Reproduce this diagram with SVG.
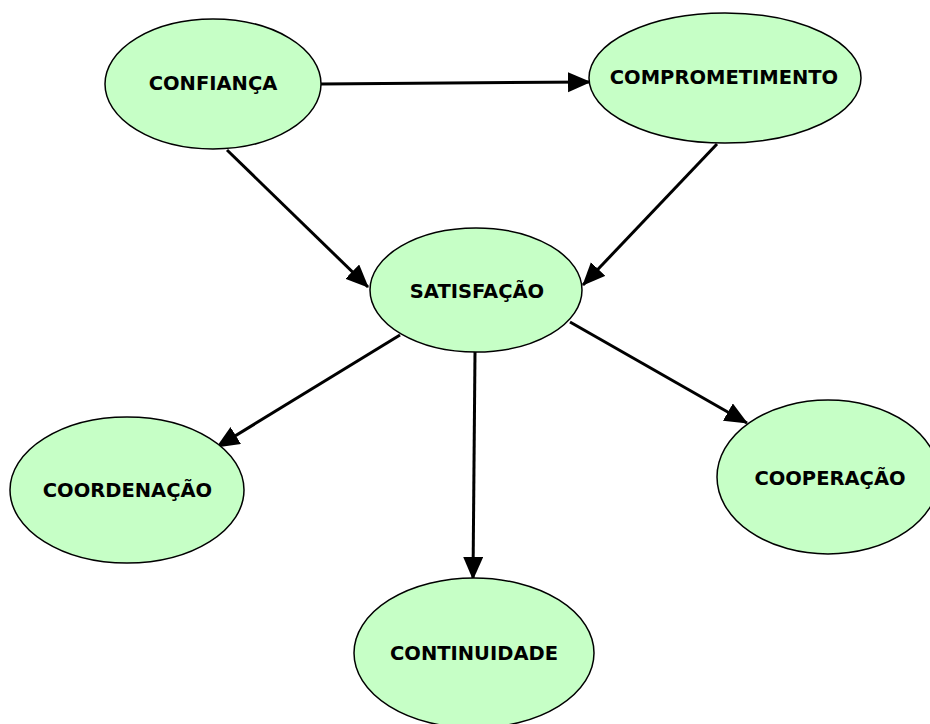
<svg xmlns="http://www.w3.org/2000/svg" width="930" height="724" viewBox="0 0 930 724">
  <style>
    .node ellipse { fill: #c6ffc6; stroke: #000; stroke-width: 1.5; }
    .node text { font-family: "DejaVu Sans", Verdana, sans-serif; font-weight: bold; font-size: 19.5px; fill: #000; text-anchor: middle; }
    .edge { stroke: #000; stroke-width: 3; fill: none; marker-end: url(#arrow); }
  </style>
  <defs>
    <marker id="arrow" markerUnits="userSpaceOnUse" markerWidth="26" markerHeight="22" refX="22" refY="10" orient="auto">
      <path d="M0,0 L23,10 L0,20 Z" fill="#000"/>
    </marker>
  </defs>
  <rect width="930" height="724" fill="#fff"/>

  <g id="connectors">
    <line class="edge" x1="321" y1="84" x2="590" y2="82"/>
    <line class="edge" x1="227" y1="150" x2="368" y2="287"/>
    <line class="edge" x1="717" y1="144" x2="583" y2="285"/>
    <line class="edge" x1="400" y1="335" x2="217" y2="447"/>
    <line class="edge" x1="475" y1="352" x2="473" y2="579"/>
    <line class="edge" x1="570" y1="322" x2="747" y2="423"/>
  </g>

  <g id="confianca" class="node">
    <ellipse cx="213" cy="84" rx="108" ry="65"/>
    <text x="213" y="90">CONFIANÇA</text>
  </g>
  <g id="comprometimento" class="node">
    <ellipse cx="725" cy="78" rx="136" ry="65"/>
    <text x="724" y="84">COMPROMETIMENTO</text>
  </g>
  <g id="satisfacao" class="node">
    <ellipse cx="476" cy="290" rx="106" ry="62"/>
    <text x="477" y="298">SATISFAÇÃO</text>
  </g>
  <g id="coordenacao" class="node">
    <ellipse cx="127" cy="490" rx="117" ry="73"/>
    <text x="127.5" y="497">COORDENAÇÃO</text>
  </g>
  <g id="cooperacao" class="node">
    <ellipse cx="828" cy="477" rx="111" ry="77"/>
    <text x="830" y="485">COOPERAÇÃO</text>
  </g>
  <g id="continuidade" class="node">
    <ellipse cx="474" cy="653" rx="120" ry="75"/>
    <text x="474" y="660">CONTINUIDADE</text>
  </g>
</svg>
